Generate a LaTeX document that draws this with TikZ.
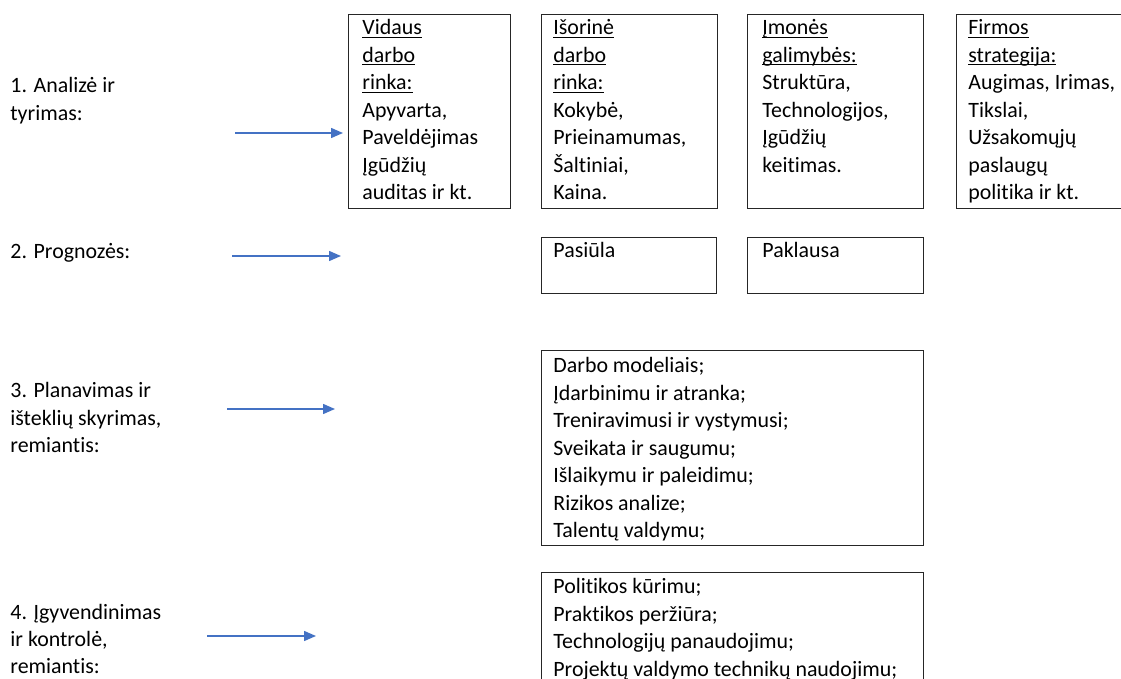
\documentclass[tikz,border=0pt]{standalone}
\usepackage{fontspec}
\setmainfont{Carlito}[Ligatures=NoCommon]
\usetikzlibrary{arrows.meta}
\definecolor{arrowblue}{HTML}{4472C4}
\definecolor{boxline}{HTML}{262626}
\newcommand{\myul}[1]{\leavevmode\setbox0\hbox{#1}\rlap{\rule[-1.4pt]{\wd0}{0.45pt}}\box0}
\newcommand{\txtlines}[1]{\parbox[t]{220pt}{\fontsize{10.95}{13.75}\selectfont\raggedright #1}}
\begin{document}
\begin{tikzpicture}[x=0.5pt,y=-0.5pt,
  box/.style={draw=boxline,line width=0.55pt,anchor=north west,inner sep=0pt},
  txt/.style={anchor=base west,inner sep=0pt,text=black},
  arr/.style={draw=arrowblue,line width=0.75pt,-{Triangle[length=6pt,width=5pt]}}]
\useasboundingbox (0,0) rectangle (1121,679);
\clip (0,0) rectangle (1121,679);
% top row boxes
\node[box,minimum width=81pt,minimum height=97pt] (vid) at (348,14) {};
\node[box,minimum width=88pt,minimum height=97pt] (iso) at (541,14) {};
\node[box,minimum width=88pt,minimum height=97pt] (imo) at (747,14) {};
\node[box,minimum width=92pt,minimum height=97pt] (fir) at (956,14) {};
\node[txt] (vidT) at (362,35) {\txtlines{\myul{Vidaus}\\\myul{darbo}\\\myul{rinka:}\\Apyvarta,\\Paveldėjimas\\Įgūdžių\\auditas ir kt.}};
\node[txt] (isoT) at (553,35) {\txtlines{\myul{Išorinė}\\\myul{darbo}\\\myul{rinka:}\\Kokybė,\\Prieinamumas,\\Šaltiniai,\\Kaina.}};
\node[txt] (imoT) at (762,35) {\txtlines{\myul{Įmonės}\\\myul{galimybės:}\\Struktūra,\\Technologijos,\\Įgūdžių\\keitimas.}};
\node[txt] (firT) at (968,35) {\txtlines{\myul{Firmos}\\\myul{strategija:}\\Augimas, Irimas,\\Tikslai,\\Užsakomųjų\\paslaugų\\politika ir kt.}};
% second row
\node[box,minimum width=87.5pt,minimum height=28pt] (pas) at (541,237) {};
\node[box,minimum width=88pt,minimum height=28pt] (pak) at (747,237) {};
\node[txt] (pasT) at (553,258) {\txtlines{Pasiūla}};
\node[txt] (pakT) at (762,258) {\txtlines{Paklausa}};
% third row
\node[box,minimum width=191pt,minimum height=97.5pt] (plan) at (541,350) {};
\node[txt] (planT) at (553,373) {\txtlines{Darbo modeliais;\\Įdarbinimu ir atranka;\\Treniravimusi ir vystymusi;\\Sveikata ir saugumu;\\Išlaikymu ir paleidimu;\\Rizikos analize;\\Talentų valdymu;}};
% fourth row
\node[box,minimum width=191pt,minimum height=70pt] (impl) at (541,572) {};
\node[txt] (implT) at (553,594) {\txtlines{Politikos kūrimu;\\Praktikos peržiūra;\\Technologijų panaudojimu;\\Projektų valdymo technikų naudojimu;}};
% left labels
\node[txt] (l1) at (10,93) {\txtlines{1. Analizė ir\\tyrimas:}};
\node[txt] (l2) at (10,259) {\txtlines{2. Prognozės:}};
\node[txt] (l3) at (10,398) {\txtlines{3. Planavimas ir\\išteklių skyrimas,\\remiantis:}};
\node[txt] (l4) at (10,619) {\txtlines{4. Įgyvendinimas\\ir kontrolė,\\remiantis:}};
% arrows
\coordinate (a1s) at (235,133); \coordinate (a1e) at (343,133);
\coordinate (a2s) at (232,256); \coordinate (a2e) at (341,256);
\coordinate (a3s) at (227,409); \coordinate (a3e) at (335,409);
\coordinate (a4s) at (207,636); \coordinate (a4e) at (316,636);
\draw[arr] (a1s) -- (a1e);
\draw[arr] (a2s) -- (a2e);
\draw[arr] (a3s) -- (a3e);
\draw[arr] (a4s) -- (a4e);
\end{tikzpicture}
\end{document}
